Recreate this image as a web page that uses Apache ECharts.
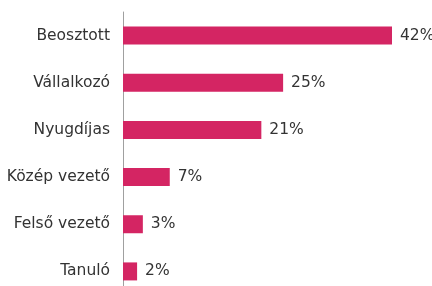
<!DOCTYPE html>
<html>
<head>
<meta charset="utf-8">
<script src="https://cdn.jsdelivr.net/npm/echarts@6/dist/echarts.min.js"></script>
<style>
  html, body { margin: 0; padding: 0; background: #fff; }
  #chart { width: 432px; height: 286px; }
</style>
</head>
<body>
<div id="chart"></div>
<script>
const categories = ["Beosztott", "Vállalkozó", "Nyugdíjas", "Közép vezető", "Felső vezető", "Tanuló"];
const values = [42, 25, 21.6, 7.3, 3.1, 2.2];
const valueLabels = ["42%", "25%", "21%", "7%", "3%", "2%"];

const chart = echarts.init(document.getElementById("chart"));
chart.setOption({
  animation: false,
  grid: { left: 123, right: 40, top: 12, height: 283, outerBoundsMode: "none", containLabel: false },
  xAxis: {
    type: "value",
    min: 0,
    max: 42,
    show: false,
  },
  yAxis: {
    type: "category",
    inverse: true,
    data: categories,
    axisLine: { show: true, lineStyle: { color: "#a0a0a0", width: 1 } },
    axisTick: { show: false },
    axisLabel: {
      margin: 13,
      color: "#333",
      fontSize: 15.5,
      fontFamily: "DejaVu Sans",
    },
  },
  series: [
    {
      type: "bar",
      data: values,
      barWidth: 18,
      itemStyle: { color: "#d42563" },
      label: {
        show: true,
        position: "right",
        distance: 8,
        color: "#333",
        fontSize: 15.5,
        fontFamily: "DejaVu Sans",
        // printed labels are the rounded percentages
        formatter: (p) => valueLabels[p.dataIndex],
      },
    },
  ],
});
</script>
</body>
</html>
